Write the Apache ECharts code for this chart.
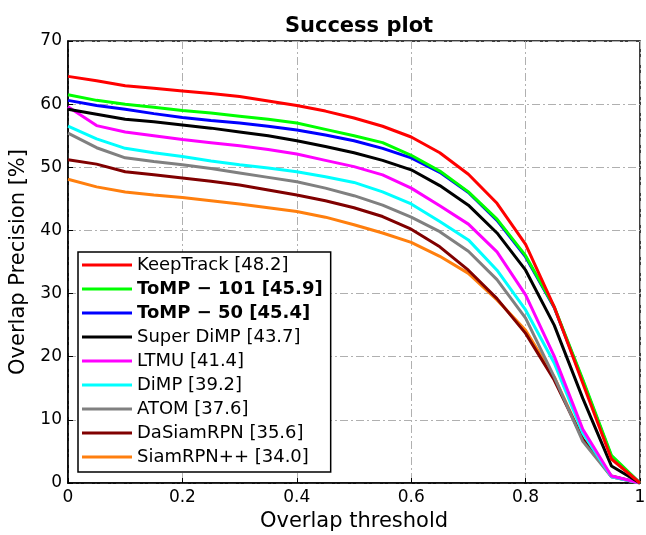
<!DOCTYPE html>
<html>
<head>
<meta charset="utf-8">
<script src="https://cdn.jsdelivr.net/npm/echarts@6/dist/echarts.min.js"></script>
<style>
  html, body { margin: 0; padding: 0; background: #fff; }
  #chart { width: 646px; height: 535px; }
</style>
</head>
<body>
<div id="chart"></div>
<script>
// Overlap thresholds (x) shared by every curve
const thresholds = [0, 0.05, 0.1, 0.15, 0.2, 0.25, 0.3, 0.35, 0.4, 0.45, 0.5,
                    0.55, 0.6, 0.65, 0.7, 0.75, 0.8, 0.85, 0.9, 0.95, 1];

// Tracker names (legend order) with AUC scores
const trackers = ['KeepTrack [48.2]', 'ToMP − 101 [45.9]', 'ToMP − 50 [45.4]',
                  'Super DiMP [43.7]', 'LTMU [41.4]', 'DiMP [39.2]', 'ATOM [37.6]',
                  'DaSiamRPN [35.6]', 'SiamRPN++ [34.0]'];
const boldTrackers = ['ToMP − 101 [45.9]', 'ToMP − 50 [45.4]'];

// Success rate (%) per threshold
const keepTrack  = [64.4, 63.7, 62.9, 62.5, 62.1, 61.7, 61.2, 60.5, 59.8, 58.9, 57.8, 56.5, 54.8, 52.3, 48.9, 44.3, 37.8, 27.9, 15.8, 3.8, 0];
const tomp101    = [61.5, 60.6, 60.0, 59.5, 59.0, 58.6, 58.1, 57.6, 57.0, 56.0, 55.0, 53.9, 51.9, 49.4, 46.1, 41.8, 36.0, 27.9, 16.4, 4.4, 0];
const tomp50     = [60.6, 59.8, 59.2, 58.5, 57.9, 57.4, 57.0, 56.5, 55.9, 55.1, 54.2, 53.0, 51.5, 49.2, 46.0, 41.6, 35.8, 27.8, 16.2, 4.2, 0];
const superDimp  = [59.2, 58.4, 57.6, 57.2, 56.7, 56.2, 55.6, 55.0, 54.2, 53.3, 52.3, 51.1, 49.6, 47.1, 44.0, 39.6, 33.7, 25.0, 13.4, 2.7, 0];
const ltmu       = [59.6, 56.6, 55.6, 55.0, 54.4, 53.9, 53.4, 52.8, 52.1, 51.1, 50.1, 48.8, 46.7, 43.9, 41.0, 36.6, 29.8, 20.1, 8.5, 1.1, 0];
const dimp       = [56.5, 54.5, 53.0, 52.3, 51.7, 51.0, 50.4, 49.9, 49.3, 48.5, 47.6, 46.1, 44.2, 41.4, 38.5, 33.7, 27.4, 19.0, 7.9, 1.0, 0];
const atom       = [55.4, 53.1, 51.5, 50.9, 50.4, 49.8, 49.1, 48.4, 47.7, 46.7, 45.5, 44.0, 42.1, 39.8, 36.7, 32.2, 26.1, 16.8, 6.6, 1.0, 0];
const daSiamRPN  = [51.2, 50.5, 49.3, 48.8, 48.3, 47.8, 47.2, 46.4, 45.6, 44.7, 43.6, 42.2, 40.2, 37.4, 33.7, 29.2, 23.7, 16.3, 7.0, 1.1, 0];
const siamRPNpp  = [48.1, 46.9, 46.1, 45.6, 45.2, 44.7, 44.2, 43.6, 43.0, 42.1, 40.9, 39.6, 38.1, 35.9, 33.2, 29.0, 24.2, 16.8, 7.0, 1.0, 0];

const curves = [keepTrack, tomp101, tomp50, superDimp, ltmu, dimp, atom, daSiamRPN, siamRPNpp];
const colors = ['#ff0000', '#00ff00', '#0000ff', '#000000', '#ff00ff', '#00ffff', '#808080', '#800000', '#ff7f0e'];

const FONT = 'DejaVu Sans';

// Draw the weakest tracker first so the strongest ends up on top
const series = [];
for (let i = curves.length - 1; i >= 0; i--) {
  series.push({
    name: trackers[i],
    type: 'line',
    data: thresholds.map((t, k) => [t, curves[i][k]]),
    showSymbol: false,
    symbol: 'none',
    silent: true,
    lineStyle: { color: colors[i], width: 3 },
    itemStyle: { color: colors[i] },
    z: 2
  });
}

const chart = echarts.init(document.getElementById('chart'), null, { renderer: 'canvas' });
chart.setOption({
  animation: false,
  backgroundColor: '#ffffff',
  title: {
    text: 'Success plot',
    left: 354, top: 11, textAlign: 'center',
    textStyle: { fontFamily: FONT, fontSize: 21, fontWeight: 'bold', color: '#000' }
  },
  grid: {
    left: 68, right: 6, top: 41, bottom: 52,
    outerBoundsMode: 'none',
    containLabel: false,
    show: true, borderColor: '#000', borderWidth: 1.5, backgroundColor: 'transparent'
  },
  xAxis: {
    type: 'value', min: 0, max: 1, interval: 0.2,
    name: 'Overlap threshold', nameLocation: 'middle', nameGap: 28,
    nameTextStyle: { fontFamily: FONT, fontSize: 21, color: '#000' },
    axisLine: { show: true, lineStyle: { color: '#000', width: 1.5 } },
    axisTick: { show: true, inside: true, length: 5, lineStyle: { color: '#000', width: 1 } },
    axisLabel: {
      fontFamily: FONT, fontSize: 17, color: '#000', margin: 6,
      formatter: v => (v === 0 ? '0' : v === 1 ? '1' : v.toFixed(1))
    },
    splitLine: { show: true, lineStyle: { color: '#b0b0b0', width: 1, type: [8, 3, 2, 3] } }
  },
  yAxis: {
    type: 'value', min: 0, max: 70, interval: 10,
    name: 'Overlap Precision [%]', nameLocation: 'middle', nameGap: 35, nameRotate: 90,
    nameTextStyle: { fontFamily: FONT, fontSize: 21, color: '#000' },
    axisLine: { show: true, lineStyle: { color: '#000', width: 1.5 } },
    axisTick: { show: true, inside: true, length: 5, lineStyle: { color: '#000', width: 1 } },
    axisLabel: { fontFamily: FONT, fontSize: 17, color: '#000', margin: 6 },
    splitLine: { show: true, lineStyle: { color: '#b0b0b0', width: 1, type: [8, 3, 2, 3] } }
  },
  legend: {
    data: trackers,
    orient: 'vertical',
    left: 78, top: 252,
    padding: [3, 8, 5, 4],
    itemGap: 4,
    itemWidth: 50, itemHeight: 3,
    icon: 'rect',
    backgroundColor: '#ffffff',
    borderColor: '#000', borderWidth: 1.5, borderRadius: 0,
    selectedMode: false,
    formatter: name => (boldTrackers.includes(name) ? '{b|' + name + '}' : name),
    textStyle: {
      fontFamily: FONT, fontSize: 18, color: '#000', lineHeight: 20,
      rich: { b: { fontFamily: FONT, fontSize: 18, fontWeight: 'bold', color: '#000', lineHeight: 20 } }
    },
    z: 10
  },
  series: series
});
</script>
</body>
</html>
